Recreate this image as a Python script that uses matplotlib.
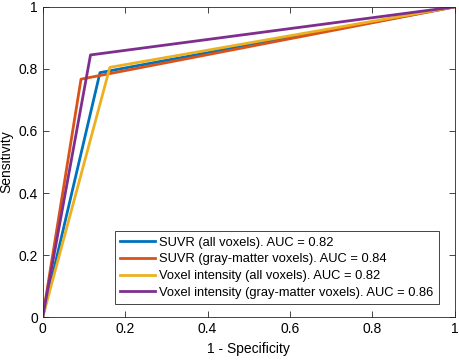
import numpy as np
from matplotlib import pyplot as plt

plt.rcParams['font.family'] = ['Liberation Sans', 'DejaVu Sans']

# ROC operating points: (0,0) -> knee -> (1,1)
labels = ['SUVR (all voxels). AUC = 0.82',
          'SUVR (gray-matter voxels). AUC = 0.84',
          'Voxel intensity (all voxels). AUC = 0.82',
          'Voxel intensity (gray-matter voxels). AUC = 0.86']
fpr = [[0, 0.139, 1], [0, 0.093, 1], [0, 0.163, 1], [0, 0.116, 1]]
tpr = [[0, 0.788, 1], [0, 0.767, 1], [0, 0.805, 1], [0, 0.845, 1]]
colors = ['#0072BD', '#D95319', '#EDB120', '#7E2F8E']

fig = plt.figure(figsize=(4.59, 3.6), dpi=100)
ax = fig.add_axes([0.093, 0.119, 0.898, 0.862])

for x, y, c, lab in zip(fpr, tpr, colors, labels):
    ax.plot(x, y, c=c, lw=2, label=lab)

ax.set_xlim(0, 1)
ax.set_ylim(0, 1)
ax.set_xticks(np.arange(0, 1.01, 0.2))
ax.set_yticks(np.arange(0, 1.01, 0.2))
ax.set_xticklabels(['0', '0.2', '0.4', '0.6', '0.8', '1'])
ax.set_yticklabels(['0', '0.2', '0.4', '0.6', '0.8', '1'])
ax.tick_params(direction='in', top=True, right=True, labelsize=10,
               color='#262626', length=4, width=0.6)
for s in ax.spines.values():
    s.set_color('#262626')
    s.set_linewidth(0.6)

ax.set_xlabel('1 - Specificity', fontsize=10)
ax.set_ylabel('Sensitivity', fontsize=10)

leg = ax.legend(loc='lower right', bbox_to_anchor=(0.962, 0.041), fontsize=9.3,
                fancybox=False, edgecolor='#262626', framealpha=1,
                handlelength=2.7, borderpad=0.45, labelspacing=0.35,
                handletextpad=0.3, borderaxespad=0)
leg.get_frame().set_linewidth(0.6)

fig.savefig('out.png', dpi=100)
